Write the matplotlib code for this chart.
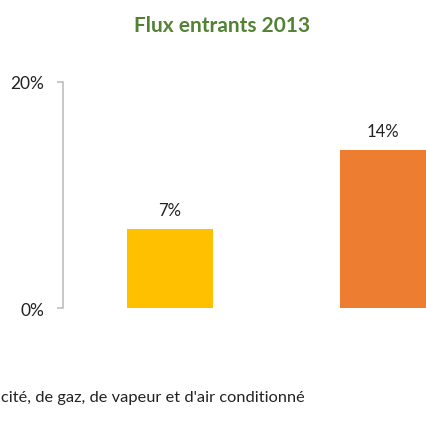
import matplotlib
matplotlib.use("Agg")
import matplotlib.pyplot as plt
from matplotlib.ticker import FuncFormatter

plt.rcParams['font.family'] = ['Lato', 'DejaVu Sans']

categories = ["A", "B"]
values = [7, 14]
colors = ["#FFC000", "#ED7D31"]
yticks = [0, 20]
title = "Flux entrants 2013"
bottom_label = "cité, de gaz, de vapeur et d'air conditionné"

fig = plt.figure(figsize=(4.26, 4.39), dpi=100)
ax = fig.add_axes([63/426, 130/439, 363/426, 226/439])

x = list(range(len(categories)))
bars = ax.bar(x, values, width=0.404, color=colors)
for xi, v in zip(x, values):
    ax.annotate(f"{v}%", (xi, v), xytext=(0, 8), textcoords="offset points",
                ha="center", va="bottom", fontsize=12, color="#222222")

ax.set_xlim(-0.5, 1.2)
ax.set_ylim(0, 20)
ax.set_yticks(yticks)
ax.yaxis.set_major_formatter(FuncFormatter(lambda v, p: f"{v:.0f}%"))
ax.set_xticks([])
for s in ["top", "right", "bottom"]:
    ax.spines[s].set_visible(False)
ax.spines["left"].set_color("#BFBFBF")
ax.spines["left"].set_linewidth(1.2)
ax.tick_params(axis="y", length=4.5, width=1.2, color="#BFBFBF", pad=9,
               labelsize=12.5, labelcolor="#222222")

fig.text(222/426, 1 - 26/439, title, ha="center", va="center", fontsize=15,
         fontweight="bold", color="#548235")
fig.text(1/426, 1 - 398/439, bottom_label, ha="left", va="center",
         fontsize=11.8, color="#222222")

fig.savefig("out.png", dpi=100)
